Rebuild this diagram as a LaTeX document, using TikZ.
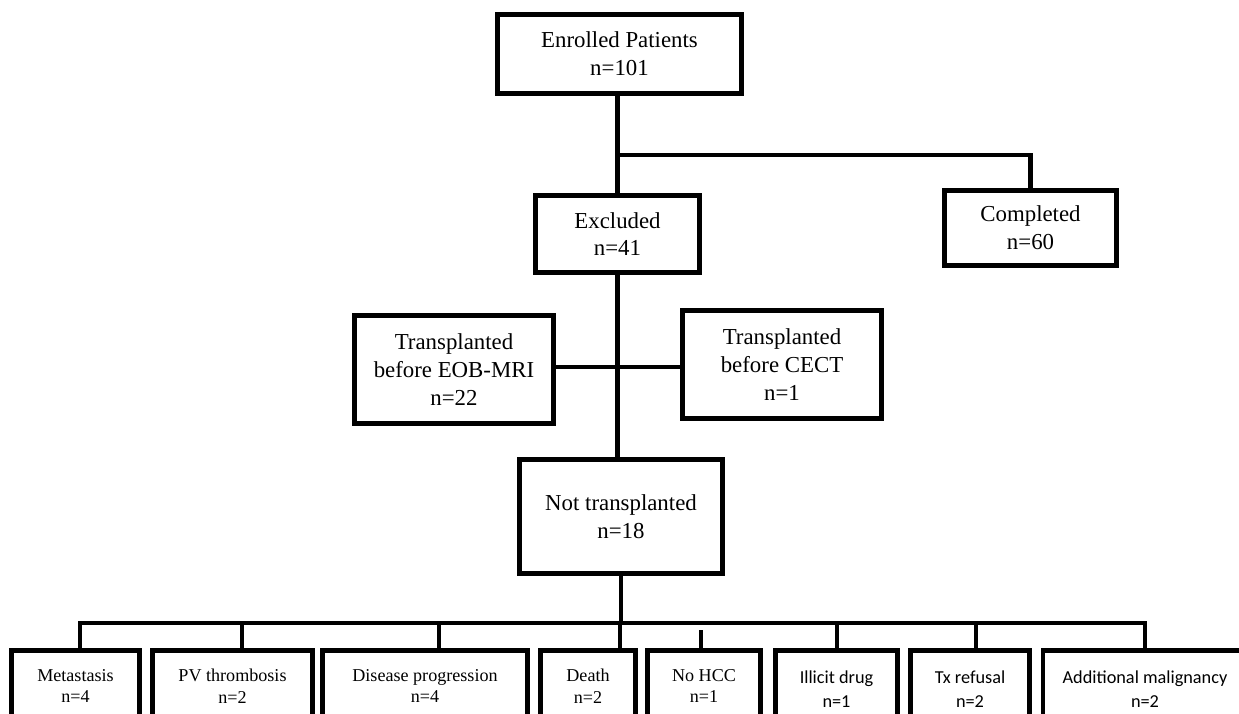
\documentclass[tikz,border=0pt]{standalone}
\usepackage{fontspec}
\setmainfont{Liberation Serif}
\newfontfamily\calibri{Carlito}
\usepackage{tikz}

\tikzset{
  flowbox/.style={draw, line width=2.8pt, align=center, inner sep=0pt,
    font=\fontsize{13}{15.8}\selectfont},
  reasonbox/.style={flowbox, font=\fontsize{10.3}{12.5}\selectfont},
  reasonsans/.style={flowbox, font=\calibri\fontsize{10.4}{13.7}\selectfont},
  bsize/.style 2 args={minimum width=#1*0.02cm, minimum height=#2*0.02cm},
  link/.style={line width=2.8pt}
}

\begin{document}
\begin{tikzpicture}[x=0.02cm, y=-0.02cm]
\clip[use as bounding box] (0,0) rectangle (1239,713);
\fill[white] (0,0) rectangle (1239,713);

\node[flowbox, bsize={244}{79}] (enrolled) at (619.5,54) {Enrolled Patients\\n=101};
\node[flowbox, bsize={164}{77}] (excluded) at (617.5,234) {Excluded\\n=41};
\node[flowbox, bsize={172}{75}] (completed) at (1030.5,228) {Completed\\n=60};
\node[flowbox, bsize={199}{108}] (eobmri) at (454,369.5) {Transplanted\\before EOB-MRI\\n=22};
\node[flowbox, bsize={199}{108}] (cect) at (782,364.5) {Transplanted\\before CECT\\n=1};
\node[flowbox, bsize={203}{114}] (nottx) at (621,516.5) {Not transplanted\\n=18};

\node[reasonbox, bsize={128}{71}] (metastasis) at (75.5,686) {Metastasis\\n=4};
\node[reasonbox, bsize={160}{71}] (pvthromb) at (232.5,686) {PV thrombosis\\n=2};
\node[reasonbox, bsize={205}{71}] (progression) at (425,686) {Disease progression\\n=4};
\node[reasonbox, bsize={95}{71}] (death) at (588,686) {Death\\n=2};
\node[reasonbox, bsize={113}{71}] (nohcc) at (704,686) {No HCC\\n=1};
\node[reasonsans, bsize={122}{77}] (illicit) at (836.5,689) {Illicit drug\\n=1};
\node[reasonsans, bsize={119}{77}] (refusal) at (970,689) {Tx refusal\\n=2};
\node[reasonsans, bsize={204}{77}] (malignancy) at (1145,689) {Additional malignancy\\n=2};

\coordinate (topsplit) at (617.5,155);
\coordinate (txsplit) at (617,367);
\coordinate (busL) at (80,623);
\coordinate (busR) at (1145,623);

\draw[link] (excluded.north |- enrolled.south) -- (excluded.north);
\draw[link] (topsplit) -| (completed.north);
\draw[link] (excluded.south) -- (excluded.south |- nottx.north);
\draw[link] (eobmri.east |- txsplit) -- (cect.west |- txsplit);
\draw[link] (nottx.south) -- (nottx.south |- busL);
\draw[link] (busL |- metastasis.north) -- (busL) -- (busR) -- (busR |- malignancy.north);
\foreach \x/\y/\b in {242/623/pvthromb, 439/623/progression, 620/623/death,
    701/630/nohcc, 837/623/illicit, 976/623/refusal}{
  \coordinate (drop\b) at (\x,\y);
  \draw[link] (drop\b) -- (drop\b |- \b.north);
}
\end{tikzpicture}
\end{document}
